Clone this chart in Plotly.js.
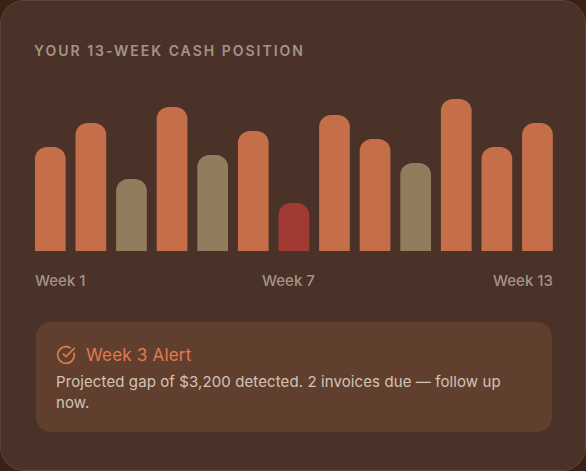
<!DOCTYPE html>
<html>
<head>
<meta charset="utf-8">
<script src="https://cdn.plot.ly/plotly-3.0.1.min.js"></script>
<style>
html,body{margin:0;padding:0;width:586px;height:471px;overflow:hidden;background:#3a2015;font-family:Inter,sans-serif}
#card{position:absolute;left:0;top:0;width:584px;height:469px;border:1px solid #5e4438;border-radius:24px;background:#4a3228}
#alert{position:absolute;left:35px;top:321px;width:516px;height:110px;border:1px solid #4f3427;border-radius:16px;background:#613f2f}
#alert svg{position:absolute;left:20px;top:23px}
#alertTitle{position:absolute;left:50px;top:22px;font-size:17px;line-height:22px;color:#e07a50;letter-spacing:.2px;white-space:nowrap}
#alertBody{position:absolute;left:20px;top:49px;width:445px;font-size:15px;line-height:21px;color:#d3c3b7;letter-spacing:.1px}
#chart{position:absolute;left:0;top:0;width:586px;height:471px}
.gtitle{letter-spacing:2px}
</style>
</head>
<body>
<div id="card"></div>
<div id="alert">
<svg width="20" height="20" viewBox="0 0 24 24" fill="none" stroke="#e07a50" stroke-width="2" stroke-linecap="round" stroke-linejoin="round"><path d="M21.8 10A10 10 0 1 1 17 3.3"/><path d="m9 11 3 3L22 4"/></svg>
<div id="alertTitle">Week 3 Alert</div>
<div id="alertBody">Projected gap of $3,200 detected. 2 invoices due — follow up now.</div>
</div>
<div id="chart"></div>
<script>
const weeks = ['Week 1','Week 2','Week 3','Week 4','Week 5','Week 6','Week 7','Week 8','Week 9','Week 10','Week 11','Week 12','Week 13'];
const cashPosition = [65,80,45,90,60,75,30,85,70,55,95,65,80];
const barColors = ['#c56f4a','#c56f4a','#917d5d','#c56f4a','#917d5d','#c56f4a','#a13a33','#c56f4a','#c56f4a','#917d5d','#c56f4a','#c56f4a','#c56f4a'];
const titleText = 'YOUR 13-WEEK CASH POSITION';
const labelColor = '#a3948a';
const weekLabels = [
  {x:'Week 1', xanchor:'left', xshift:-17.2},
  {x:'Week 7', xanchor:'center', xshift:-4.9},
  {x:'Week 13', xanchor:'right', xshift:17.6}
];
Plotly.newPlot('chart',[{
  type:'bar', x:weeks, y:cashPosition,
  marker:{color:barColors, line:{width:0}, cornerradius:12},
  hoverinfo:'skip'
}],{
  width:586, height:471,
  margin:{l:29,r:28,t:91,b:220,pad:0},
  paper_bgcolor:'rgba(0,0,0,0)', plot_bgcolor:'rgba(0,0,0,0)',
  bargap:0.244, showlegend:false,
  title:{text:titleText, x:34/586, xanchor:'left', xref:'container', yref:'container', y:1-51/471, yanchor:'middle',
    font:{family:'Inter, sans-serif', size:14, weight:600, color:'#a3948a'}},
  xaxis:{type:'category', range:[-0.524,12.506], showgrid:false, zeroline:false, showline:false, showticklabels:false, ticks:''},
  yaxis:{range:[0,100], showgrid:false, zeroline:false, showline:false, showticklabels:false, ticks:''},
  annotations: weekLabels.map(w=>({
    x:w.x, xref:'x', y:0, yref:'y', yshift:-29, yanchor:'middle', xanchor:w.xanchor, xshift:w.xshift,
    text:w.x, showarrow:false, font:{family:'Inter, sans-serif', size:15, weight:500, color:labelColor}
  }))
},{displayModeBar:false, staticPlot:true});
</script>
</body>
</html>
